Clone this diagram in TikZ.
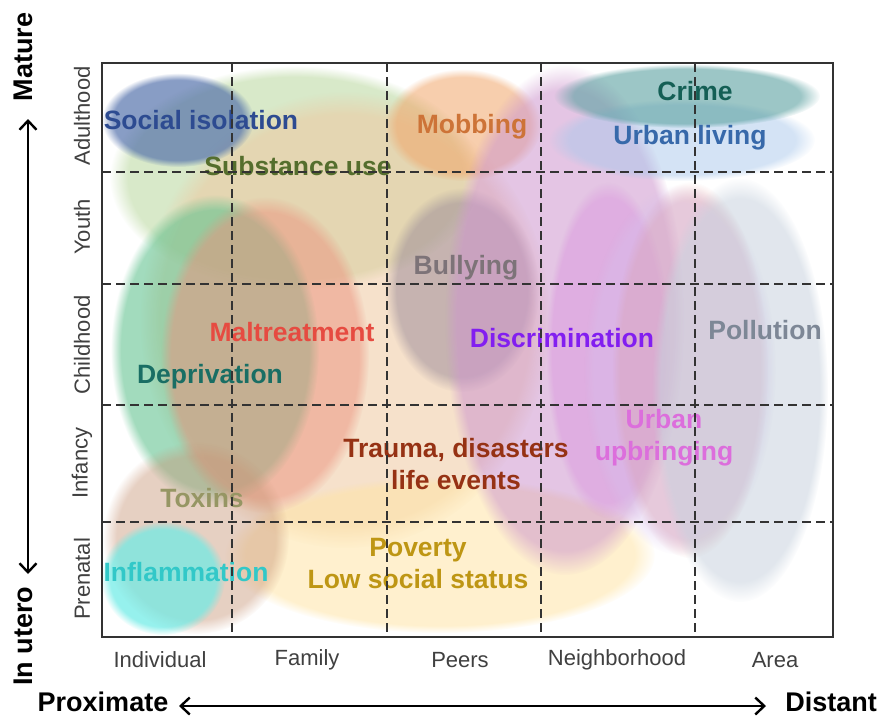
\documentclass[tikz,border=0pt]{standalone}
\usepackage{fontspec}
\setmainfont{Liberation Sans}
\usetikzlibrary{arrows.meta,fadings}

% blob colours
\definecolor{cSubst}{RGB}{190,218,165}
\definecolor{cTrauma}{RGB}{238,200,160}
\definecolor{cPoverty}{RGB}{255,228,165}
\definecolor{cDepriv}{RGB}{100,195,145}
\definecolor{cMaltr}{RGB}{235,145,125}
\definecolor{cToxin}{RGB}{200,150,120}
\definecolor{cInflam}{RGB}{110,235,230}
\definecolor{cIsol}{RGB}{80,110,170}
\definecolor{cMobb}{RGB}{240,165,105}
\definecolor{cBully}{RGB}{150,135,150}
\definecolor{cDiscr}{RGB}{205,150,205}
\definecolor{cUpbr}{RGB}{215,130,220}
\definecolor{cSalmon}{RGB}{220,145,145}
\definecolor{cLav}{RGB}{215,190,235}
\definecolor{cPoll}{RGB}{200,210,222}
\definecolor{cUrbLiv}{RGB}{170,200,235}
\definecolor{cCrime}{RGB}{90,160,160}
% label colours
\definecolor{tIsol}{RGB}{45,75,145}
\definecolor{tSubst}{RGB}{85,110,45}
\definecolor{tMobb}{RGB}{205,115,55}
\definecolor{tCrime}{RGB}{20,95,85}
\definecolor{tUrbLiv}{RGB}{55,105,170}
\definecolor{tBully}{RGB}{125,115,120}
\definecolor{tDiscr}{RGB}{130,30,240}
\definecolor{tPoll}{RGB}{125,135,150}
\definecolor{tUpbr}{RGB}{220,110,220}
\definecolor{tTrauma}{RGB}{150,50,20}
\definecolor{tMaltr}{RGB}{230,75,65}
\definecolor{tDepriv}{RGB}{25,110,100}
\definecolor{tToxin}{RGB}{150,150,100}
\definecolor{tInflam}{RGB}{50,200,200}
\definecolor{tPoverty}{RGB}{190,150,20}

\begin{document}
\begin{tikzpicture}[
  x=1pt, y=-1pt,
  >={Straight Barb[length=9pt,width=17pt,line width=2.4pt]},
  blob/.style={fill=#1, path fading=circle with fuzzy edge 15 percent},
  wide/.style={path fading=circle with fuzzy edge 10 percent},
  grid/.style={draw=black!80, line width=1.2pt, dash pattern=on 9pt off 5pt},
  factor/.style={font=\fontsize{26.5}{32}\selectfont\bfseries, align=center, inner sep=0pt},
  level/.style={font=\fontsize{22}{22}\selectfont, text=black!75, inner sep=0pt},
  pole/.style={font=\fontsize{27}{27}\selectfont\bfseries, inner sep=0pt}
]
\useasboundingbox (0,0) rectangle (880,718);

% exposure blobs
\fill[blob=cSubst, wide, fill opacity=.6] (295,178) ellipse [x radius=185, y radius=112];
\fill[blob=cTrauma, wide, fill opacity=.55] (345,320) ellipse [x radius=205, y radius=228];
\fill[blob=cPoverty, wide, fill opacity=.55] (440,555) ellipse [x radius=215, y radius=78];
\fill[blob=cDepriv, wide, fill opacity=.6] (215,350) ellipse [x radius=104, y radius=155];
\fill[blob=cMaltr, wide, fill opacity=.5] (265,355) ellipse [x radius=104, y radius=158];
\fill[blob=cToxin, fill opacity=.45] (196,538) ellipse [x radius=93, y radius=96];
\fill[blob=cInflam, fill opacity=.72] (163,578) ellipse [x radius=62, y radius=57];
\fill[blob=cIsol, fill opacity=.68] (178,120) ellipse [x radius=76, y radius=47];
\fill[blob=cMobb, fill opacity=.55] (463,125) ellipse [x radius=78, y radius=56];
\fill[blob=cBully, fill opacity=.5] (462,290) ellipse [x radius=77, y radius=102];
\fill[blob=cDiscr, wide, fill opacity=.55] (565,320) ellipse [x radius=120, y radius=255];
\fill[blob=cUpbr, wide, fill opacity=.35] (608,350) ellipse [x radius=62, y radius=168];
\fill[blob=cSalmon, wide, fill opacity=.42] (690,370) ellipse [x radius=78, y radius=188];
\fill[blob=cLav, wide, fill opacity=.4] (680,370) ellipse [x radius=96, y radius=185];
\fill[blob=cPoll, wide, fill opacity=.55] (740,390) ellipse [x radius=88, y radius=212];
\fill[blob=cUrbLiv, fill opacity=.5] (682,140) ellipse [x radius=133, y radius=41];
\fill[blob=cCrime, fill opacity=.6] (687,96) ellipse [x radius=133, y radius=32];

% factor labels
\node[factor, text=tIsol] (isol) at (201,120) {Social isolation};
\node[factor, text=tSubst] (subst) at (298,166) {Substance use};
\node[factor, text=tMobb] (mobb) at (472,127) {Mobbing};
\node[factor, text=tCrime] (crime) at (695,91) {Crime};
\node[factor, text=tUrbLiv] (urbliv) at (690,138) {Urban living};
\node[factor, text=tBully] (bully) at (466,268) {Bullying};
\node[factor, text=tDiscr] (discr) at (562,338) {Discrimination};
\node[factor, text=tPoll] (poll) at (765,330) {Pollution};
\node[factor, text=tUpbr] (upbr) at (664,438) {Urban\\upbringing};
\node[factor, text=tTrauma] (trauma) at (456,464) {Trauma, disasters\\life events};
\node[factor, text=tMaltr] (maltr) at (292,332) {Maltreatment};
\node[factor, text=tDepriv] (depriv) at (210,377) {Deprivation};
\node[factor, text=tToxin] (toxin) at (202,498) {Toxins};
\node[factor, text=tInflam] (inflam) at (186,572) {Inflammation};
\node[factor, text=tPoverty] (poverty) at (418,564) {Poverty\\Low social status};

% grid and frame
\foreach \x in {232,387,541,695}
  \draw[grid] (\x,63) -- (\x,637);
\foreach \y in {172,284,405,522}
  \draw[grid] (102,\y) -- (833,\y);
\draw[black!80, line width=1.3pt] (102,63) rectangle (833,637);

% life stages and social levels
\foreach \y/\t in {116/Adulthood,227/Youth,345/Childhood,463/Infancy,579/Prenatal}
  \node[level, rotate=90] (stage\t) at (82,\y) {\t};
\foreach \x/\t in {160/Individual,307/Family,460/Peers,617/Neighborhood,775/Area}
  \node[level] (lvl\t) at (\x,660) {\t};

% axes
\node[pole, rotate=90] (mature) at (23,57) {Mature};
\node[pole, rotate=90] (utero) at (23,636) {In utero};
\node[pole, anchor=base] (prox) at (103,711) {Proximate};
\node[pole, anchor=base] (dist) at (831,711) {Distant};
\coordinate (upTip) at (28,119);
\coordinate (downTip) at (28,574);
\coordinate (leftTip) at (179,706);
\coordinate (rightTip) at (766,706);
\draw[<->, line width=2pt] (downTip) -- (upTip);
\draw[<->, line width=2pt] (leftTip) -- (rightTip);
\end{tikzpicture}
\end{document}
